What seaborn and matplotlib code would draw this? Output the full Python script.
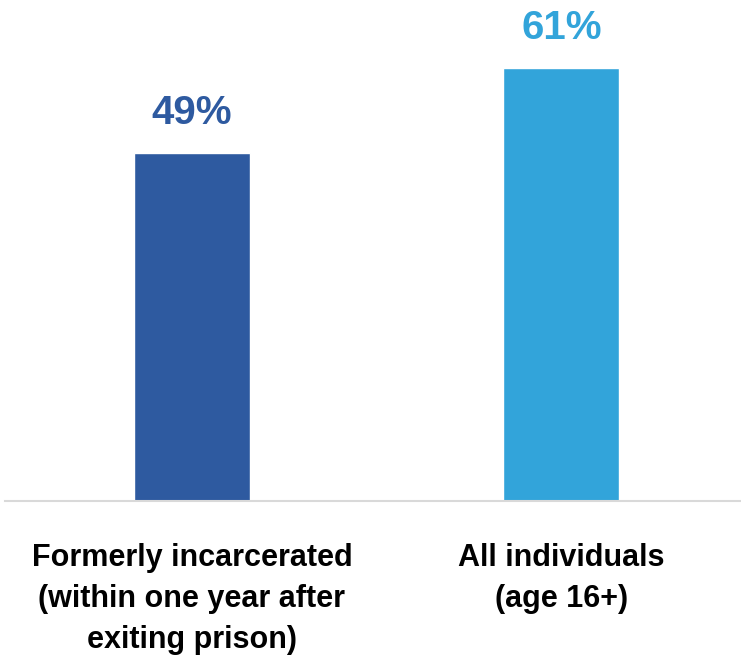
import matplotlib
matplotlib.use('Agg')
import matplotlib.pyplot as plt
import seaborn as sns
import pandas as pd

# Data
categories = ['Formerly incarcerated\n(within one year after\nexiting prison)',
              'All individuals\n(age 16+)']
values = [49, 61]
value_labels = ['49%', '61%']
colors = ['#2E5AA0', '#32A4DA']

sns.set_style('white')
plt.rcParams['font.family'] = ['Liberation Sans', 'DejaVu Sans']

df = pd.DataFrame({'group': categories, 'value': values})

fig = plt.figure(figsize=(7.41, 6.6), dpi=100)
ax = fig.add_axes([5 / 741, 159 / 660, 736 / 741, 497 / 660])

sns.barplot(data=df, x='group', y='value', hue='group', palette=colors,
            width=0.314, legend=False, ax=ax, saturation=1)

ax.set_ylim(0, 70)
ax.set_xlim(-0.506, 1.486)

for cont, lab, col in zip(ax.containers, value_labels, colors):
    ax.bar_label(cont, labels=[lab], padding=15, color=col,
                 fontsize=29, fontweight='bold')

for s in ['top', 'right', 'left']:
    ax.spines[s].set_visible(False)
ax.spines['bottom'].set_color('#D9D9D9')
ax.spines['bottom'].set_linewidth(1.5)

ax.set_yticks([])
ax.set_xlabel('')
ax.set_ylabel('')
ax.tick_params(axis='x', length=0, pad=30, colors='black')
for t in ax.get_xticklabels():
    t.set_fontsize(22)
    t.set_fontweight('bold')
    t.set_color('black')
    t.set_multialignment('center')
    t.set_linespacing(1.48)

fig.savefig('out.png', dpi=100)
